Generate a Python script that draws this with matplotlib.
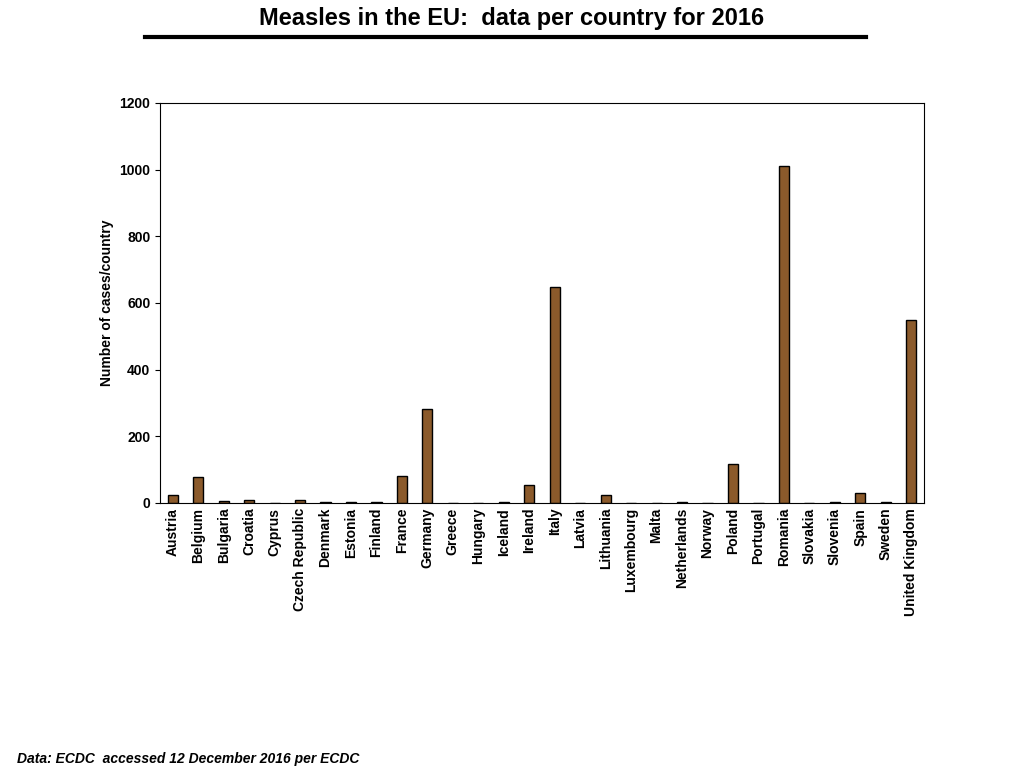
import matplotlib
matplotlib.use("Agg")
from matplotlib import pyplot as plt

countries = ["Austria", "Belgium", "Bulgaria", "Croatia", "Cyprus", "Czech Republic",
             "Denmark", "Estonia", "Finland", "France", "Germany", "Greece", "Hungary",
             "Iceland", "Ireland", "Italy", "Latvia", "Lithuania", "Luxembourg", "Malta",
             "Netherlands", "Norway", "Poland", "Portugal", "Romania", "Slovakia",
             "Slovenia", "Spain", "Sweden", "United Kingdom"]
cases = [24, 78, 5, 8, 0, 8, 4, 4, 4, 80, 282, 0, 0, 3, 54, 648, 0, 23, 0, 0,
         4, 0, 117, 0, 1011, 0, 4, 31, 4, 549]
yticks = [0, 200, 400, 600, 800, 1000, 1200]

plt.rcParams['font.family'] = ['Liberation Sans', 'DejaVu Sans']
fig = plt.figure(figsize=(10.24, 7.68), dpi=100)
ax = fig.add_axes([160/1024, 1 - 503/768, 764/1024, 400/768])

x = range(len(countries))
ax.bar(x, cases, width=0.4, color="#8B5A2B", edgecolor="black", linewidth=1)
ax.set_xlim(-0.5, len(countries) - 0.5)
ax.set_ylim(0, 1200)
ax.set_yticks(yticks)
ax.set_yticklabels([str(v) for v in yticks], fontsize=10, fontweight="bold")
ax.set_xticks(list(x))
ax.set_xticklabels(countries, rotation=90, fontsize=10, fontweight="bold")
ax.set_ylabel("Number of cases/country", fontsize=10, fontweight="bold")
ax.tick_params(axis="x", length=0)

fig.text(0.5, 1 - 19/768, "Measles in the EU:  data per country for 2016",
         ha="center", va="center", fontsize=17, fontweight="bold")
fig.add_artist(plt.Line2D([145/1024, 866/1024], [1 - 37/768, 1 - 37/768],
                          color="black", linewidth=3))
fig.text(17/1024, 1 - 759/768, "Data: ECDC  accessed 12 December 2016 per ECDC",
         ha="left", va="center", fontsize=10, fontweight="bold", style="italic")

plt.savefig("out.png", dpi=100)
